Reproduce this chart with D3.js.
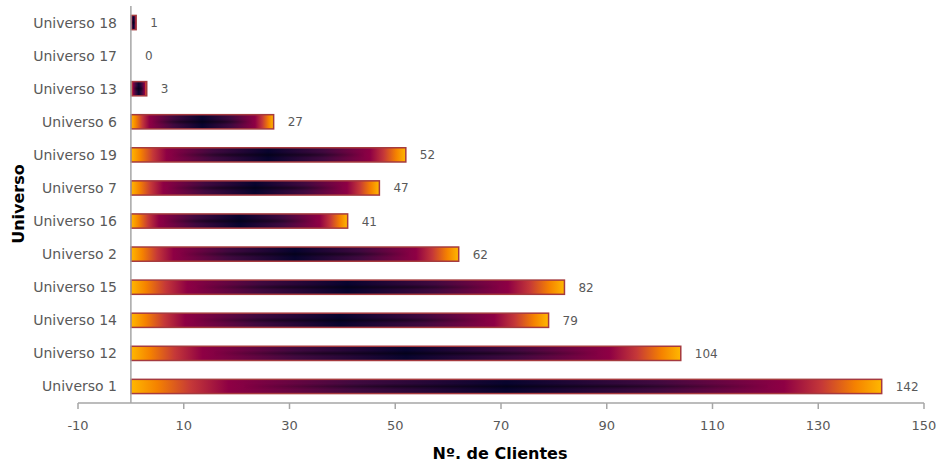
<!DOCTYPE html>
<html><head><meta charset="utf-8">
<script src="https://cdn.jsdelivr.net/npm/d3@7"></script>
<style>body{margin:0;background:#fff}svg{display:block}</style>
</head><body>
<svg id="c" width="939" height="465"></svg>
<script>
const categories = ["Universo 18","Universo 17","Universo 13","Universo 6","Universo 19","Universo 7","Universo 16","Universo 2","Universo 15","Universo 14","Universo 12","Universo 1"];
const values = [1,0,3,27,52,47,41,62,82,79,104,142];
const xTicks = [-10,10,30,50,70,90,110,130,150];

const svg = d3.select("#c");
const font = "'DejaVu Sans', Verdana, sans-serif";
const x = d3.scaleLinear().domain([-10,150]).range([78,924]);
const y = d3.scaleBand().domain(categories).range([6,403]).paddingInner(0.57).paddingOuter(0.285);

const defs = svg.append("defs");
const g = defs.append("linearGradient").attr("id","hg").attr("x1","0").attr("x2","1").attr("y1","0").attr("y2","0");
[[0,"#ffb800"],[0.035,"#f58200"],[0.08,"#c53838"],[0.13,"#8e0044"],[0.3,"#40093f"],[0.5,"#08042e"],[0.7,"#40093f"],[0.87,"#8e0044"],[0.92,"#c53838"],[0.965,"#f58200"],[1,"#ffb800"]]
  .forEach(([o,c])=>g.append("stop").attr("offset",o).attr("stop-color",c));
const vg = defs.append("linearGradient").attr("id","vg").attr("x1","0").attr("x2","0").attr("y1","0").attr("y2","1");
[[0,"#000",0],[0.3,"#000",0],[0.5,"#000",0.4],[0.7,"#000",0],[1,"#000",0]].forEach(([o,c,a])=>vg.append("stop").attr("offset",o).attr("stop-color",c).attr("stop-opacity",a));
const mg = defs.append("linearGradient").attr("id","mg").attr("x1","0").attr("x2","1").attr("y1","0").attr("y2","0");
[[0,"#000"],[0.15,"#000"],[0.35,"#fff"],[0.65,"#fff"],[0.85,"#000"],[1,"#000"]].forEach(([o,c])=>mg.append("stop").attr("offset",o).attr("stop-color",c));
const mask = defs.append("mask").attr("id","mk").attr("maskContentUnits","objectBoundingBox");
mask.append("rect").attr("x",0).attr("y",0).attr("width",1).attr("height",1).attr("fill","url(#mg)");

// axes lines
svg.append("line").attr("x1",x(-10)).attr("x2",x(150)).attr("y1",403).attr("y2",403).attr("stroke","#a6a6a6").attr("stroke-width",1.5);
svg.selectAll(".xt").data(xTicks).enter().append("line").attr("x1",d=>x(d)).attr("x2",d=>x(d)).attr("y1",403).attr("y2",409).attr("stroke","#a6a6a6").attr("stroke-width",1.5);
svg.selectAll(".xl").data(xTicks).enter().append("text").attr("x",d=>x(d)).attr("y",430).attr("text-anchor","middle")
  .attr("font-family",font).attr("font-size",13).attr("fill","#595959").text(d=>d);

const bars = svg.append("g");
categories.forEach((c,i)=>{
  const v = values[i];
  if (v>0){
    const x0=x(0), w=x(v)-x(0), yy=y(c), h=y.bandwidth();
    bars.append("rect").attr("x",x0).attr("y",yy).attr("width",w).attr("height",h).attr("fill","url(#hg)");
    bars.append("rect").attr("x",x0).attr("y",yy).attr("width",w).attr("height",h).attr("fill","url(#vg)").attr("mask","url(#mk)");
    bars.append("rect").attr("x",x0).attr("y",yy).attr("width",w).attr("height",h).attr("fill","none").attr("stroke","#a53a3e").attr("stroke-width",1.5);
  }
  svg.append("text").attr("x",x(v)+14).attr("y",y(c)+y.bandwidth()/2+4.5).attr("font-family",font).attr("font-size",12).attr("fill","#595959").text(v);
});

svg.append("line").attr("x1",x(0)).attr("x2",x(0)).attr("y1",6).attr("y2",403).attr("stroke","#a6a6a6").attr("stroke-width",1.5);
svg.selectAll(".yl").data(categories).enter().append("text").attr("x",117).attr("y",d=>y(d)+y.bandwidth()/2+5)
  .attr("text-anchor","end").attr("font-family",font).attr("font-size",14).attr("fill","#595959").text(d=>d);

svg.append("text").attr("x",500).attr("y",459).attr("text-anchor","middle").attr("font-family",font).attr("font-size",16).attr("font-weight","bold").attr("fill","#000").text("Nº. de Clientes");
svg.append("text").attr("transform","translate(24,204) rotate(-90)").attr("text-anchor","middle").attr("font-family",font).attr("font-size",16).attr("font-weight","bold").attr("fill","#000").text("Universo");
</script>
</body></html>
